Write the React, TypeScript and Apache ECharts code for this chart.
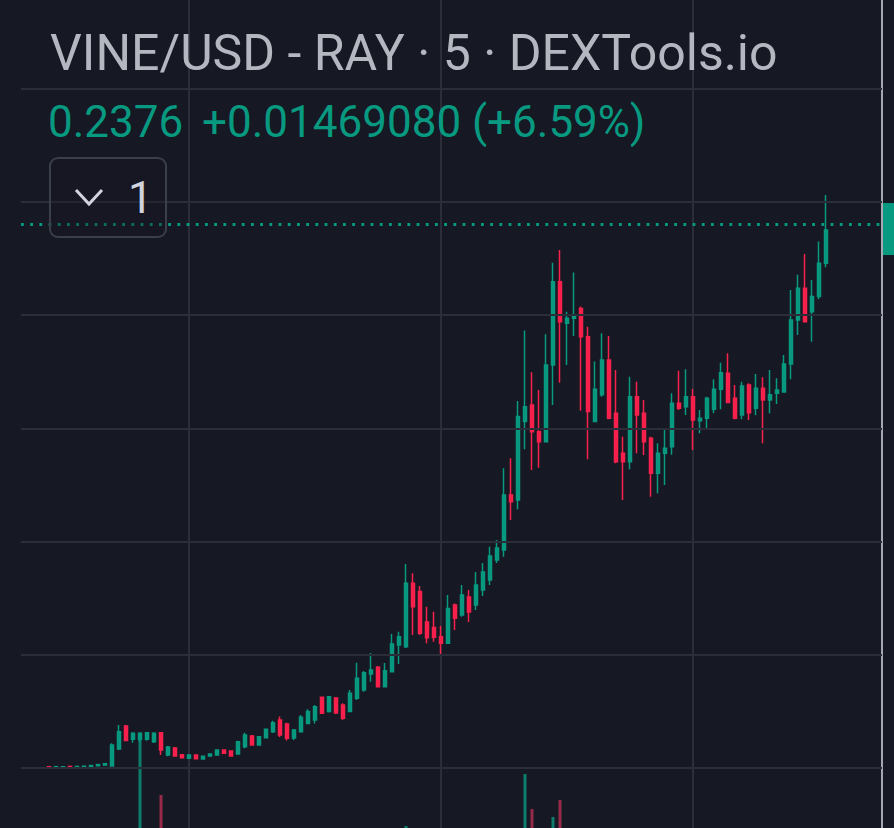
import React, { useEffect, useRef } from "react";
import * as echarts from "echarts";

const TITLE = "VINE/USD - RAY · 5 · DEXTools.io";
const LAST_PRICE = 0.2376;
const LAST_PRICE_TEXT = "0.2376";
const CHANGE_TEXT = "+0.01469080 (+6.59%)";
const INTERVAL_BADGE = "1";

// vertical grid at these times (every 3h)
const GRID_TIMES = ["15:00", "18:00", "21:00"];
// horizontal price grid levels
const GRID_PRICES = [0, 0.05, 0.1, 0.15, 0.2, 0.25, 0.3];
// visible price range of the pane
const PRICE_BOTTOM = -0.0265;
const PRICE_TOP = 0.3392;

// 5-minute candles: [open, close, low, high]
const OHLC: number[][] = [
  [0.0006, 0.0002, 0.0001, 0.0006],
  [0.0002, 0.0006, 0.0002, 0.0006],
  [0.0003, 0.0006, 0.0003, 0.0007],
  [0.0007, 0.0003, 0.0003, 0.0007],
  [0.0003, 0.0007, 0.0003, 0.0007],
  [0.0004, 0.0008, 0.0004, 0.0008],
  [0.0006, 0.0011, 0.0006, 0.0011],
  [0.001, 0.0015, 0.001, 0.0015],
  [0.0013, 0.0019, 0.0013, 0.0019],
  [0.0009, 0.0102, 0.0009, 0.0109],
  [0.0084, 0.016, 0.008, 0.019],
  [0.0186, 0.0121, 0.0118, 0.019],
  [0.0127, 0.0153, 0.0112, 0.0158],
  [0.0127, 0.0153, 0.0115, 0.0158],
  [0.0127, 0.0156, 0.012, 0.0158],
  [0.0116, 0.0153, 0.011, 0.0158],
  [0.0156, 0.008, 0.0057, 0.0159],
  [0.0057, 0.0093, 0.0052, 0.0097],
  [0.0088, 0.0053, 0.005, 0.0093],
  [0.0058, 0.0045, 0.0043, 0.006],
  [0.0043, 0.0057, 0.0042, 0.0058],
  [0.0057, 0.0041, 0.0039, 0.0058],
  [0.004, 0.0052, 0.0038, 0.0054],
  [0.0053, 0.0062, 0.0051, 0.0063],
  [0.0057, 0.008, 0.0057, 0.008],
  [0.008, 0.0065, 0.0062, 0.0082],
  [0.0075, 0.0053, 0.005, 0.0077],
  [0.0062, 0.0116, 0.006, 0.012],
  [0.0094, 0.0146, 0.0087, 0.0156],
  [0.0141, 0.0102, 0.01, 0.0146],
  [0.0102, 0.0138, 0.0099, 0.0141],
  [0.0134, 0.0171, 0.0132, 0.0174],
  [0.016, 0.02, 0.0155, 0.0209],
  [0.0212, 0.0146, 0.0137, 0.0227],
  [0.0194, 0.0131, 0.0121, 0.02],
  [0.0133, 0.0168, 0.0124, 0.0172],
  [0.016, 0.0224, 0.0159, 0.0234],
  [0.0197, 0.0249, 0.0197, 0.0259],
  [0.0212, 0.0271, 0.0197, 0.0278],
  [0.0312, 0.0242, 0.024, 0.0314],
  [0.0249, 0.0315, 0.0245, 0.0318],
  [0.0309, 0.0243, 0.0239, 0.0314],
  [0.0278, 0.022, 0.0212, 0.0286],
  [0.0249, 0.033, 0.0247, 0.0345],
  [0.0308, 0.0396, 0.03, 0.0465],
  [0.0345, 0.0421, 0.0337, 0.0428],
  [0.0415, 0.0433, 0.0381, 0.0508],
  [0.0445, 0.0359, 0.0355, 0.045],
  [0.0359, 0.043, 0.0355, 0.0464],
  [0.0425, 0.0548, 0.0424, 0.0592],
  [0.0543, 0.058, 0.0459, 0.0602],
  [0.0536, 0.0816, 0.053, 0.0901],
  [0.0816, 0.0712, 0.0587, 0.086],
  [0.0779, 0.0595, 0.0587, 0.0804],
  [0.0645, 0.0575, 0.0551, 0.0712],
  [0.062, 0.0577, 0.0558, 0.069],
  [0.058, 0.0551, 0.0499, 0.0627],
  [0.0551, 0.0705, 0.0549, 0.0764],
  [0.072, 0.0661, 0.061, 0.0727],
  [0.0676, 0.0764, 0.0668, 0.0808],
  [0.0755, 0.0689, 0.0645, 0.0786],
  [0.072, 0.0808, 0.0698, 0.0866],
  [0.0786, 0.0866, 0.076, 0.0905],
  [0.083, 0.0936, 0.0808, 0.0977],
  [0.0919, 0.0972, 0.0905, 0.1007],
  [0.0963, 0.1206, 0.0933, 0.1324],
  [0.1206, 0.1176, 0.1095, 0.1368],
  [0.1184, 0.1552, 0.1143, 0.1621],
  [0.153, 0.1596, 0.1408, 0.1932],
  [0.1603, 0.1485, 0.1316, 0.1748],
  [0.1485, 0.1441, 0.1326, 0.167],
  [0.1441, 0.178, 0.1441, 0.1916],
  [0.178, 0.2148, 0.1603, 0.2232],
  [0.2148, 0.1971, 0.1702, 0.2288],
  [0.1964, 0.1986, 0.178, 0.2015],
  [0.1986, 0.2001, 0.1908, 0.2189],
  [0.203, 0.1905, 0.1578, 0.2038],
  [0.1905, 0.1574, 0.1364, 0.1949],
  [0.153, 0.1673, 0.153, 0.1795],
  [0.1648, 0.1802, 0.164, 0.192],
  [0.1802, 0.1545, 0.154, 0.1908],
  [0.1567, 0.1353, 0.1346, 0.1758],
  [0.139, 0.1353, 0.1184, 0.1463],
  [0.1353, 0.164, 0.1319, 0.1728],
  [0.164, 0.1559, 0.139, 0.1706],
  [0.1567, 0.1441, 0.1382, 0.1625],
  [0.1456, 0.1302, 0.1198, 0.1463],
  [0.1302, 0.139, 0.1213, 0.1434],
  [0.139, 0.1412, 0.125, 0.1493],
  [0.1419, 0.1611, 0.1383, 0.1655],
  [0.1611, 0.1589, 0.1581, 0.1755],
  [0.1596, 0.164, 0.1559, 0.1761],
  [0.164, 0.1537, 0.1405, 0.1674],
  [0.1534, 0.1545, 0.1478, 0.1581],
  [0.1545, 0.1633, 0.15, 0.164],
  [0.1584, 0.1673, 0.1567, 0.1717],
  [0.1673, 0.1746, 0.1584, 0.179],
  [0.1743, 0.1614, 0.1611, 0.1832],
  [0.1633, 0.1545, 0.154, 0.1692],
  [0.1559, 0.1687, 0.154, 0.1706],
  [0.1692, 0.1569, 0.1537, 0.1699],
  [0.1589, 0.1677, 0.1558, 0.174],
  [0.1677, 0.1625, 0.1434, 0.1726],
  [0.1625, 0.1648, 0.1567, 0.1758],
  [0.1655, 0.167, 0.1608, 0.1721],
  [0.1661, 0.1784, 0.1661, 0.1824],
  [0.1784, 0.1979, 0.1717, 0.2111],
  [0.1979, 0.2119, 0.1912, 0.2178],
  [0.2119, 0.1971, 0.1971, 0.227],
  [0.2015, 0.2082, 0.1883, 0.2155],
  [0.2082, 0.2229, 0.207, 0.2325],
  [0.2229, 0.2376, 0.2212, 0.2531],
];

// volume, thousands of VINE
const VOLUME: number[] = [
  120, 60, 40, 80, 50, 45, 70, 90, 110, 900, 950, 700, 400, 1950, 350, 300, 1330, 420, 380, 260,
  220, 240, 180, 160, 210, 190, 230, 480, 430, 360, 300, 340, 390, 520, 470, 310, 450, 420, 500, 560,
  480, 510, 430, 520, 780, 560, 640, 590, 540, 820, 610, 1020, 880, 840, 650, 560, 620, 760, 580, 640,
  600, 660, 700, 720, 690, 950, 870, 980, 1540, 1190, 860, 930, 1110, 1280, 760, 820, 880, 960, 720, 740,
  860, 900, 690, 840, 700, 680, 790, 640, 560, 710, 590, 560, 620, 440, 480, 500, 520, 560, 470, 480,
  460, 450, 540, 430, 380, 560, 820, 760, 790, 640, 720, 880,
];
// volume pane shows only the top of the bars
const VOLUME_MIN = 1000;
const VOLUME_MAX = 2500;

const PAD_BEFORE = 4; // empty slots before first candle
const PAD_AFTER = 8; // empty slots right of last candle
const START_MIN = 13 * 60; // first slot 13:00

const UP = "#089981";
const DOWN = "#f7214c";
const BG = "#161823";
const GRID = "#2b2d39";

function fmt(m: number) {
  const h = Math.floor(m / 60) % 24;
  const mm = m % 60;
  return `${String(h).padStart(2, "0")}:${String(mm).padStart(2, "0")}`;
}

export default function App() {
  const ref = useRef<HTMLDivElement>(null);
  useEffect(() => {
    if (!ref.current) return;
    const chart = echarts.init(ref.current, null, { renderer: "svg" });
    const total = PAD_BEFORE + OHLC.length + PAD_AFTER;
    const cats: string[] = [];
    for (let k = 0; k < total; k++) cats.push(fmt(START_MIN + 5 * k));
    const candleData: any[] = [];
    const volData: any[] = [];
    for (let k = 0; k < total; k++) {
      const i = k - PAD_BEFORE;
      if (i >= 0 && i < OHLC.length) {
        candleData.push(OHLC[i]);
        const up = OHLC[i][1] >= OHLC[i][0];
        volData.push({ value: VOLUME[i], itemStyle: { color: up ? "#0c7c6b" : "#962a49" } });
      } else {
        candleData.push("-");
        volData.push("-");
      }
    }
    const font = "Roboto, 'Noto Sans', sans-serif";
    chart.setOption({
      animation: false,
      backgroundColor: BG,
      grid: [
        { left: 21, right: 12, top: 0, bottom: 0 },
        { left: 21, right: 12, top: 678, bottom: 0 },
      ],
      xAxis: [
        {
          type: "category",
          data: cats,
          boundaryGap: false,
          gridIndex: 0,
          axisLine: { show: false },
          axisTick: { show: false },
          axisLabel: { show: false },
          splitLine: {
            show: true,
            interval: (_i: number, v: string) => GRID_TIMES.includes(v),
            lineStyle: { color: GRID, width: 2 },
          },
        },
        {
          type: "category",
          data: cats,
          boundaryGap: false,
          gridIndex: 1,
          show: false,
        },
      ],
      yAxis: [
        {
          type: "value",
          gridIndex: 0,
          position: "right",
          min: PRICE_BOTTOM,
          max: PRICE_TOP,
          axisLine: { show: true, lineStyle: { color: "#a5a8b1", width: 2 } },
          axisTick: { show: false },
          axisLabel: { show: false },
          splitLine: { show: false },
        },
        {
          type: "value",
          gridIndex: 1,
          min: VOLUME_MIN,
          max: VOLUME_MAX,
          show: false,
          splitLine: { show: false },
        },
      ],
      series: [
        {
          type: "line",
          xAxisIndex: 0,
          yAxisIndex: 0,
          data: [],
          z: 0,
          silent: true,
          markLine: {
            silent: true,
            symbol: ["none", "none"],
            label: { show: false },
            lineStyle: { color: GRID, type: "solid", width: 2 },
            data: GRID_PRICES.map((p) => ({ yAxis: p })),
          },
        },
        {
          type: "bar",
          xAxisIndex: 1,
          yAxisIndex: 1,
          data: volData,
          barWidth: 3,
          z: 1,
          silent: true,
        },
        {
          type: "candlestick",
          xAxisIndex: 0,
          yAxisIndex: 0,
          data: candleData,
          barWidth: 3.2,
          z: 3,
          itemStyle: {
            color: UP,
            color0: DOWN,
            borderColor: UP,
            borderColor0: DOWN,
            borderWidth: 1.5,
          },
          markLine: {
            silent: true,
            symbol: ["none", "none"],
            data: [{ yAxis: LAST_PRICE }],
            lineStyle: { color: UP, type: [2.8, 6.4], width: 2.8, cap: "butt" },
            label: { show: false },
          },
        },
      ],
      graphic: [
        {
          id: "title",
          type: "text",
          left: 50,
          top: 28,
          z: 20,
          style: { text: TITLE, fill: "#b4b7c0", font: `50px ${font}` },
        },
        {
          id: "price",
          type: "text",
          left: 48,
          top: 100,
          z: 20,
          style: { text: LAST_PRICE_TEXT, fill: UP, font: `44px ${font}` },
        },
        {
          id: "change",
          type: "text",
          left: 202,
          top: 100,
          z: 20,
          style: { text: CHANGE_TEXT, fill: UP, font: `44px ${font}` },
        },
        {
          id: "badgeBox",
          type: "rect",
          shape: { x: 50, y: 158, width: 116, height: 79, r: 8 },
          style: { fill: "rgba(22,24,35,0.35)", stroke: "#3b3e4b", lineWidth: 2 },
          z: 20,
        },
        {
          id: "badgeChevron",
          type: "polyline",
          shape: { points: [[76, 190], [89, 204], [102, 190]] },
          style: { stroke: "#d1d4dc", lineWidth: 3, fill: null },
          z: 21,
        },
        {
          id: "badgeText",
          type: "text",
          left: 128,
          top: 176,
          style: { text: INTERVAL_BADGE, fill: "#d1d4dc", font: `44px ${font}` },
          z: 21,
        },
      ],
    });
    // last-price tag on the (cropped) price scale
    const py = chart.convertToPixel({ yAxisIndex: 0 }, LAST_PRICE) as number;
    chart.setOption({
      graphic: [
        {
          id: "lastTag",
          type: "rect",
          shape: { x: 883, y: py - 27, width: 14, height: 52 },
          style: { fill: UP },
          z: 22,
        },
      ],
    });
    return () => chart.dispose();
  }, []);
  return (
    <div
      ref={ref}
      style={{ position: "fixed", left: 0, top: 0, width: 894, height: 828, background: BG }}
    />
  );
}
